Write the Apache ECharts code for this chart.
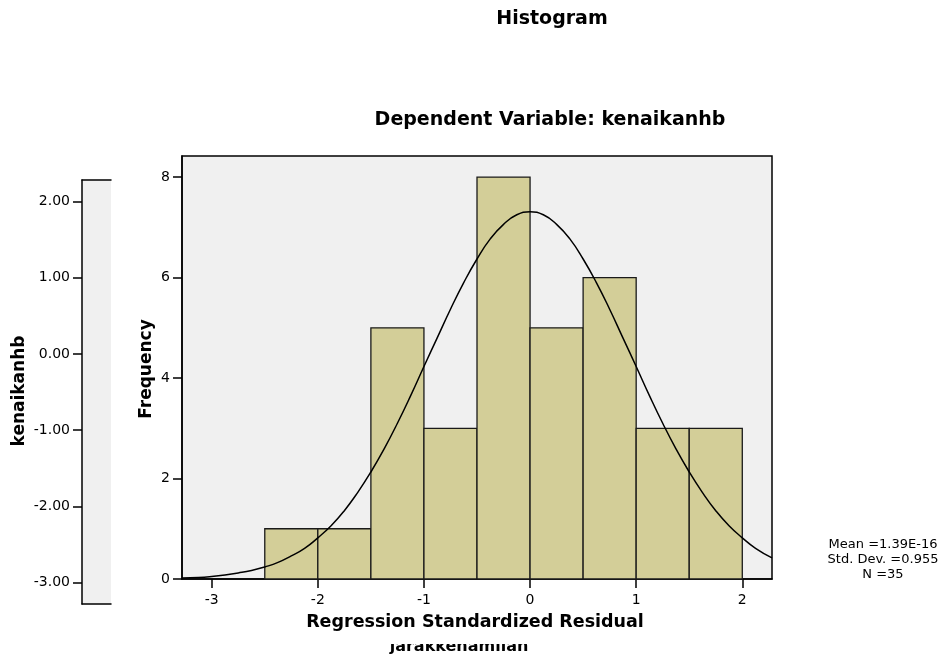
<!DOCTYPE html>
<html>
<head>
<meta charset="utf-8">
<title>Histogram</title>
<script src="https://cdn.jsdelivr.net/npm/echarts@6/dist/echarts.min.js"></script>
<style>
	html, body { margin: 0; padding: 0; background: #ffffff; }
	#chart { width: 942px; height: 663px; }
</style>
</head>
<body>
<div id="chart"></div>
<script>
	// 直方图分箱（左右边界）与频数
	var binEdges = [-2.5, -2, -1.5, -1, -0.5, 0, 0.5, 1, 1.5, 2];
	var binCounts = [1, 1, 5, 3, 8, 5, 6, 3, 3];
	// 正态曲线
	var curveX = [-3.28, -3.125, -3, -2.875, -2.75, -2.625, -2.5, -2.375, -2.25, -2.125, -2, -1.875, -1.75, -1.625, -1.5, -1.375, -1.25, -1.125, -1, -0.875, -0.75, -0.625, -0.5, -0.375, -0.25, -0.125,
		0, 0.125, 0.25, 0.375, 0.5, 0.625, 0.75, 0.875, 1, 1.125, 1.25, 1.375, 1.5, 1.625, 1.75, 1.875, 2, 2.125, 2.28];
	var curveY = [0.02, 0.03, 0.05, 0.08, 0.12, 0.17, 0.24, 0.33, 0.46, 0.61, 0.82, 1.06, 1.36, 1.72, 2.13, 2.59, 3.10, 3.65, 4.23, 4.80, 5.37, 5.90, 6.37, 6.77, 7.06, 7.25,
		7.31, 7.25, 7.06, 6.77, 6.37, 5.90, 5.37, 4.80, 4.23, 3.65, 3.10, 2.59, 2.13, 1.72, 1.36, 1.06, 0.82, 0.61, 0.42];
	// 刻度
	var residualTicks = [-3, -2, -1, 0, 1, 2];
	var frequencyTicks = [0, 2, 4, 6, 8];
	var leftTicks = [-3, -2, -1, 0, 1, 2];
	var statLines = ['Mean =1.39E-16', 'Std. Dev. =0.955', 'N =35'];

	var FONT = '"DejaVu Sans"';
	var axisLineStyle = { color: '#000', width: 1.5 };

	var histData = binCounts.map(function (c, i) {
		return [binEdges[i], binEdges[i + 1], c];
	});
	var curveData = curveX.map(function (x, i) {
		return [x, curveY[i]];
	});

	var graphics = [
		{ type: 'text', x: 552, y: 19, z: 3, style: { text: 'Histogram', font: 'bold 19px ' + FONT, fill: '#000', textAlign: 'center', textVerticalAlign: 'middle' } },
		{ type: 'text', x: 550, y: 120, z: 3, style: { text: 'Dependent Variable: kenaikanhb', font: 'bold 19px ' + FONT, fill: '#000', textAlign: 'center', textVerticalAlign: 'middle' } },
		// 被遮住的散点图 x 轴标题
		{ type: 'text', x: 459, y: 647, z: 1, style: { text: 'jarakkenamilan', font: 'bold 16px ' + FONT, fill: '#000', textAlign: 'center', textVerticalAlign: 'middle' } },
		{ type: 'rect', z: 2, shape: { x: 370, y: 628, width: 180, height: 16 }, style: { fill: '#ffffff' } },
		{ type: 'text', x: 475, y: 622, z: 3, style: { text: 'Regression Standardized Residual', font: 'bold 17.5px ' + FONT, fill: '#000', textAlign: 'center', textVerticalAlign: 'middle' } },
		{ type: 'text', x: 147, y: 369, z: 3, rotation: Math.PI / 2, style: { text: 'Frequency', font: 'bold 17px ' + FONT, fill: '#000', textAlign: 'center', textVerticalAlign: 'middle' } },
		{ type: 'text', x: 20, y: 391, z: 3, rotation: Math.PI / 2, style: { text: 'kenaikanhb', font: 'bold 17px ' + FONT, fill: '#000', textAlign: 'center', textVerticalAlign: 'middle' } }
	];
	statLines.forEach(function (t, i) {
		graphics.push({ type: 'text', x: 883, y: 545 + i * 15, z: 3, style: { text: t, font: '13px ' + FONT, fill: '#000', textAlign: 'center', textVerticalAlign: 'middle' } });
	});

	var chartOption = {
		animation: false,
		backgroundColor: '#ffffff',
		textStyle: { fontFamily: FONT },
		graphic: graphics,
		grid: [
			{ left: 82, top: 180, width: 29, height: 424, show: true, backgroundColor: '#f0f0f0', borderWidth: 0 },
			{ left: 182, top: 156, width: 590, height: 423, show: true, backgroundColor: '#f0f0f0', borderColor: '#000', borderWidth: 1.5 }
		],
		xAxis: [
			{
				gridIndex: 0, type: 'value', min: -3.28, max: 2.28, position: 'bottom',
				axisLine: { show: true, onZero: false, lineStyle: axisLineStyle },
				axisTick: { show: false }, axisLabel: { show: false }, splitLine: { show: false }
			},
			{
				gridIndex: 0, type: 'value', min: -3.28, max: 2.28, position: 'top',
				axisLine: { show: true, onZero: false, lineStyle: axisLineStyle },
				axisTick: { show: false }, axisLabel: { show: false }, splitLine: { show: false }
			},
			{
				gridIndex: 1, type: 'value', min: -3.28, max: 2.28, position: 'bottom',
				axisLine: { show: true, onZero: false, lineStyle: axisLineStyle },
				axisTick: { show: true, length: 9, customValues: residualTicks, lineStyle: axisLineStyle },
				axisLabel: { customValues: residualTicks, margin: 14, fontSize: 14, fontFamily: FONT, color: '#000' },
				splitLine: { show: false }
			}
		],
		yAxis: [
			{
				gridIndex: 0, type: 'value', min: -3.28, max: 2.28,
				axisLine: { show: true, onZero: false, lineStyle: axisLineStyle },
				axisTick: { show: true, length: 9, customValues: leftTicks, lineStyle: axisLineStyle },
				axisLabel: {
					customValues: leftTicks, margin: 12, fontSize: 14, fontFamily: FONT, color: '#000',
					formatter: function (v) { return v.toFixed(2); }
				},
				splitLine: { show: false }
			},
			{
				gridIndex: 1, type: 'value', min: 0, max: 8.42,
				axisLine: { show: true, onZero: false, lineStyle: axisLineStyle },
				axisTick: { show: true, length: 9, customValues: frequencyTicks, lineStyle: axisLineStyle },
				axisLabel: { customValues: frequencyTicks, margin: 12, fontSize: 14, fontFamily: FONT, color: '#000' },
				splitLine: { show: false }
			}
		],
		series: [
			{
				name: 'Frequency',
				type: 'custom',
				xAxisIndex: 2,
				yAxisIndex: 1,
				z: 2,
				encode: { x: [0, 1], y: 2 },
				data: histData,
				renderItem: function (params, api) {
					var p0 = api.coord([api.value(0), api.value(2)]);
					var p1 = api.coord([api.value(1), 0]);
					return {
						type: 'rect',
						shape: { x: p0[0], y: p0[1], width: p1[0] - p0[0], height: p1[1] - p0[1] },
						style: { fill: '#d3ce98', stroke: '#1a1a1a', lineWidth: 1.3 }
					};
				}
			},
			{
				name: 'Normal',
				type: 'line',
				xAxisIndex: 2,
				yAxisIndex: 1,
				z: 3,
				smooth: true,
				symbol: 'none',
				data: curveData,
				lineStyle: { color: '#000', width: 1.5 }
			}
		]
	};

	var chart = echarts.init(document.getElementById('chart'));
	chart.setOption(chartOption);
</script>
</body>
</html>
